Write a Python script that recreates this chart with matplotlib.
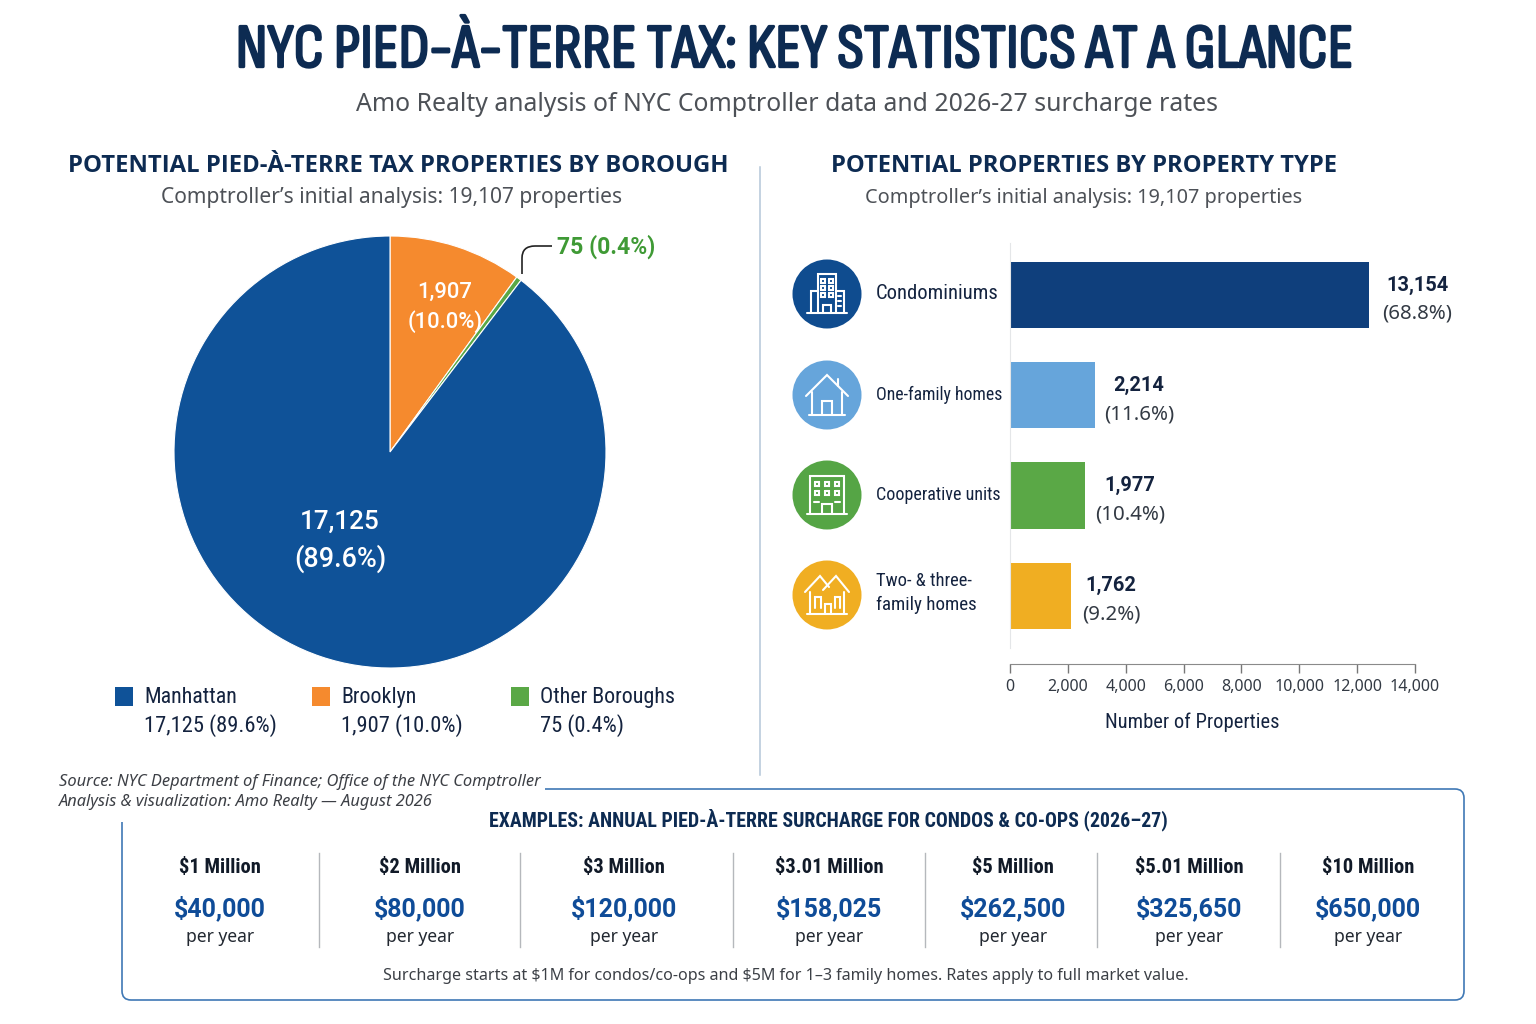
import matplotlib
matplotlib.use('Agg')
import matplotlib.pyplot as plt
import matplotlib.patheffects as pe
from matplotlib.patches import Circle, PathPatch, Rectangle
from matplotlib.path import Path

plt.rcParams['font.family'] = ['Noto Sans', 'DejaVu Sans']
TITLE = ['Sofia Sans Condensed', 'Oswald', 'Roboto Condensed', 'DejaVu Sans']
NARROW = ['Roboto Condensed', 'Noto Sans', 'DejaVu Sans']
HEAD = ['Open Sans', 'DejaVu Sans']
ROB = ['Roboto', 'DejaVu Sans']

# borough pie
boroughs = ['Manhattan', 'Brooklyn', 'Other Boroughs']
borough_counts = [17125, 1907, 75]
borough_pct = [89.6, 10.0, 0.4]
borough_colors = ['#0f5298', '#f58a2e', '#5aa846']

# property type bars
# bar lengths are read against the drawn axis, the picture does not draw them to the printed counts
type_names = ['Condominiums', 'One-family homes', 'Cooperative units', 'Two- & three-\nfamily homes']
type_counts = [13154, 2214, 1977, 1762]
type_pct = [68.8, 11.6, 10.4, 9.2]
bar_lengths = [12410, 2938, 2593, 2108]
type_colors = ['#0f3f7c', '#66a5db', '#5aa846', '#f0ae22']
icon_colors = ['#0f4c8f', '#66a5db', '#55a545', '#f0ae22']
x_ticks = [0, 2000, 4000, 6000, 8000, 10000, 12000, 14000]

# surcharge table
prices = ['$1 Million', '$2 Million', '$3 Million', '$3.01 Million', '$5 Million', '$5.01 Million', '$10 Million']
surcharges = ['$40,000', '$80,000', '$120,000', '$158,025', '$262,500', '$325,650', '$650,000']

NAVY = '#0d2b52'
INK = '#14233f'
GREY = '#4d5157'
W, H = 1536, 1024

fig = plt.figure(figsize=(W / 100, H / 100), dpi=100, facecolor='white')

# full page axes in pixels, y going down, on top of the pie and bar axes
page = fig.add_axes([0, 0, 1, 1], zorder=5)
page.set_xlim(0, W)
page.set_ylim(H, 0)
page.axis('off')


def px(size):
    return size * 0.72


def put(x, y, s, size, color=INK, ha='center', weight='normal', **kw):
    return page.text(x, y + 1.5, s, fontsize=px(size), color=color, ha=ha, va='center', weight=weight,
                     parse_math=False, **kw)


def axes_px(left, top, right, bottom):
    return fig.add_axes([left / W, 1 - bottom / H, (right - left) / W, (bottom - top) / H])


# titles
t = put(795, 50, 'NYC PIED-À-TERRE TAX: KEY STATISTICS AT A GLANCE', 62.5, NAVY, family=TITLE)
t.set_path_effects([pe.withStroke(linewidth=1.7, foreground=NAVY)])
put(787, 103, 'Amo Realty analysis of NYC Comptroller data and 2026-27 surcharge rates', 24.8, GREY)
put(398, 165, 'POTENTIAL PIED-À-TERRE TAX PROPERTIES BY BOROUGH', 23.9, NAVY, weight='bold', family=HEAD)
put(392, 196, 'Comptroller’s initial analysis: 19,107 properties', 21, GREY)
put(1084, 165, 'POTENTIAL PROPERTIES BY PROPERTY TYPE', 23.8, NAVY, weight='bold', family=HEAD)
put(1084, 196, 'Comptroller’s initial analysis: 19,107 properties', 19.9, GREY)

page.plot([760, 760], [167, 775], color='#b4c6d8', lw=1.1)

# pie, orange starts at twelve o'clock and runs clockwise
pie_order = [1, 2, 0]
ax_pie = axes_px(170, 232, 610, 672)
ax_pie.pie([borough_counts[i] for i in pie_order], colors=[borough_colors[i] for i in pie_order],
           startangle=90, counterclock=False, radius=216 / 220,
           wedgeprops={'edgecolor': 'white', 'linewidth': 0.8})
ax_pie.set_xlim(-1, 1)
ax_pie.set_ylim(-1, 1)

put(340, 520, f'{borough_counts[0]:,}', 26, 'white', weight='medium', family=ROB)
put(340, 557, f'({borough_pct[0]}%)', 27, 'white', weight='medium', family=ROB)
put(445, 291, f'{borough_counts[1]:,}', 22, 'white', weight='medium', family=ROB)
put(445, 320, f'({borough_pct[1]}%)', 22, 'white', weight='medium', family=ROB)
put(557, 245, f'{borough_counts[2]} ({borough_pct[2]}%)', 23, '#3f9a35', ha='left', weight='bold', family=ROB)
page.add_patch(PathPatch(Path([(522, 274), (522, 258), (522, 246), (535, 246), (552, 246)],
                              [Path.MOVETO, Path.LINETO, Path.CURVE3, Path.CURVE3, Path.LINETO]),
                         fc='none', ec='#222222', lw=1.2))

# legend under the pie
for i, (sq_x, txt_x) in enumerate([(115, 144), (312, 341), (511, 540)]):
    page.add_patch(Rectangle((sq_x, 687), 18, 19, fc=borough_colors[i], ec='none'))
    put(txt_x, 696, boroughs[i], 22, ha='left', family=NARROW)
    put(txt_x, 724, f'{borough_counts[i]:,} ({borough_pct[i]}%)', 22.5, ha='left', family=NARROW)

# bars
ax_bar = axes_px(1010, 243, 1415, 664)
rows = range(len(type_counts))
ax_bar.barh(list(rows), bar_lengths, height=0.66, color=type_colors)
ax_bar.set_xlim(0, 14000)
ax_bar.set_ylim(3.68, -0.518)
ax_bar.patch.set_alpha(0)
ax_bar.set_yticks([])
ax_bar.set_xticks(x_ticks)
ax_bar.set_xticklabels([f'{t:,}' for t in x_ticks])
ax_bar.tick_params(axis='x', length=6.5, width=1, color='#777777', labelsize=px(16), labelcolor='#333a44', pad=4)
for s in ['top', 'right']:
    ax_bar.spines[s].set_visible(False)
ax_bar.spines['bottom'].set_color('#8a8a8a')
ax_bar.spines['left'].set_color('#e4e6e8')
ax_bar.spines['left'].set_bounds(3.52, -0.518)

label_offset = [48, 44, 45, 40]
for i in rows:
    ax_bar.annotate(f'{type_counts[i]:,}', (bar_lengths[i], i), xytext=(px(label_offset[i]), px(10)),
                    textcoords='offset points', ha='center', va='center', fontsize=px(20), weight='bold',
                    color=INK, family=ROB)
    ax_bar.annotate(f'({type_pct[i]}%)', (bar_lengths[i], i), xytext=(px(label_offset[i]), px(-19)),
                    textcoords='offset points', ha='center', va='center', fontsize=px(20.5), color='#333a44',
                    annotation_clip=False)
put(1192, 721, 'Number of Properties', 20.5, family=NARROW)


# icons, white outlines on a coloured disc
def lines(cx, cy, *shapes):
    for pts in shapes:
        page.plot([cx + p[0] for p in pts], [cy + p[1] for p in pts], color='white', lw=1.5,
                  solid_joinstyle='miter', solid_capstyle='round', zorder=4)


def box(x0, y0, x1, y1):
    return [(x0, y0), (x1, y0), (x1, y1), (x0, y1), (x0, y0)]


icon_y = [294, 395, 495, 595]
for y, c in zip(icon_y, icon_colors):
    page.add_patch(Circle((827, y), 34.5, fc=c, ec='none', zorder=3))

lines(827, icon_y[0], [(-20, 19), (20, 19)], [(-9, 19), (-9, -20), (9, -20), (9, 19)],
      [(-9, -3), (-16, -3), (-16, 19)], [(9, -3), (17, -3), (17, 19)], [(-4, 19), (-4, 11), (4, 11), (4, 19)],
      box(-6, -15, -2, -11), box(2, -15, 6, -11), box(-6, -8, -2, -4), box(2, -8, 6, -4),
      box(-6, -1, -2, 3), box(2, -1, 6, 3), [(11, 2), (14, 2)], [(11, 7), (14, 7)], [(11, 12), (14, 12)])
lines(827, icon_y[1], [(-21, 1), (0, -20), (21, 1)], [(-15, -3), (-15, 20)], [(15, -3), (15, 20)],
      [(-18, 20), (18, 20)], [(-5, 20), (-5, 6), (5, 6), (5, 20)], [(11, -16), (11, -9)])
lines(827, icon_y[2], [(-20, 19), (20, 19)], [(-17, 19), (-17, -19), (17, -19), (17, 19)],
      box(-12, -13, -8, -9), box(-2, -13, 2, -9), box(8, -13, 12, -9),
      box(-12, -4, -8, 0), box(-2, -4, 2, 0), box(8, -4, 12, 0), [(-5, 19), (-5, 9), (5, 9), (5, 19)],
      [(-13, 7), (-8, 7)], [(8, 7), (13, 7)])
lines(827, icon_y[3], [(-22, -3), (-7, -19), (2, -8)], [(-4, -5), (9, -19), (22, -3)],
      [(-17, -3), (-17, 19)], [(17, -3), (17, 19)], [(-20, 19), (20, 19)],
      [(-12, 13), (-12, 2), (-6, 2), (-6, 13)], [(-2, 19), (-2, 9), (4, 9), (4, 19)],
      [(8, 13), (8, 2), (13, 2), (13, 13)])

for name, y, size in zip(type_names, [292, 393, 493], [20.7, 17.8, 18]):
    put(876, y, name, size, ha='left', family=NARROW)
put(876, 580, type_names[3].split('\n')[0], 18.5, ha='left', family=NARROW)
put(876, 603, type_names[3].split('\n')[1], 19, ha='left', family=NARROW)

# source note and the open cornered panel
put(59, 780, 'Source: NYC Department of Finance; Office of the NYC Comptroller', 16.5, '#3c3f45', ha='left', style='italic')
put(59, 801, 'Analysis & visualization: Amo Realty — August 2026', 16.4, '#3c3f45', ha='left', style='italic')

verts = [(545, 789), (1455, 789), (1464, 789), (1464, 798), (1464, 991), (1464, 1000), (1455, 1000),
         (131, 1000), (122, 1000), (122, 991), (122, 822)]
codes = [Path.MOVETO, Path.LINETO, Path.CURVE3, Path.CURVE3, Path.LINETO, Path.CURVE3, Path.CURVE3,
         Path.LINETO, Path.CURVE3, Path.CURVE3, Path.LINETO]
page.add_patch(PathPatch(Path(verts, codes), fc='none', ec='#3f78b5', lw=1.2))

put(828, 818.5, 'EXAMPLES: ANNUAL PIED-À-TERRE SURCHARGE FOR CONDOS & CO-OPS (2026–27)', 19.9, NAVY, weight='bold', family=NARROW)

col_x = [220, 420, 624, 829, 1013, 1189, 1368]
for x, price, amount in zip(col_x, prices, surcharges):
    put(x, 866, price, 20.5, '#111a28', weight='bold', family=NARROW)
    put(x, 907, amount, 25, '#0f4c98', weight='bold', family=ROB)
    put(x, 935, 'per year', 17.5, '#222831')
for x in [319, 520, 733, 925, 1097, 1280]:
    page.plot([x, x], [853, 947], color='#b5b8bc', lw=1)

put(786, 974, 'Surcharge starts at $1M for condos/co-ops and $5M for 1–3 family homes. Rates apply to full market value.',
    16.1, '#3c4046')

fig.savefig('out.png', dpi=100)
